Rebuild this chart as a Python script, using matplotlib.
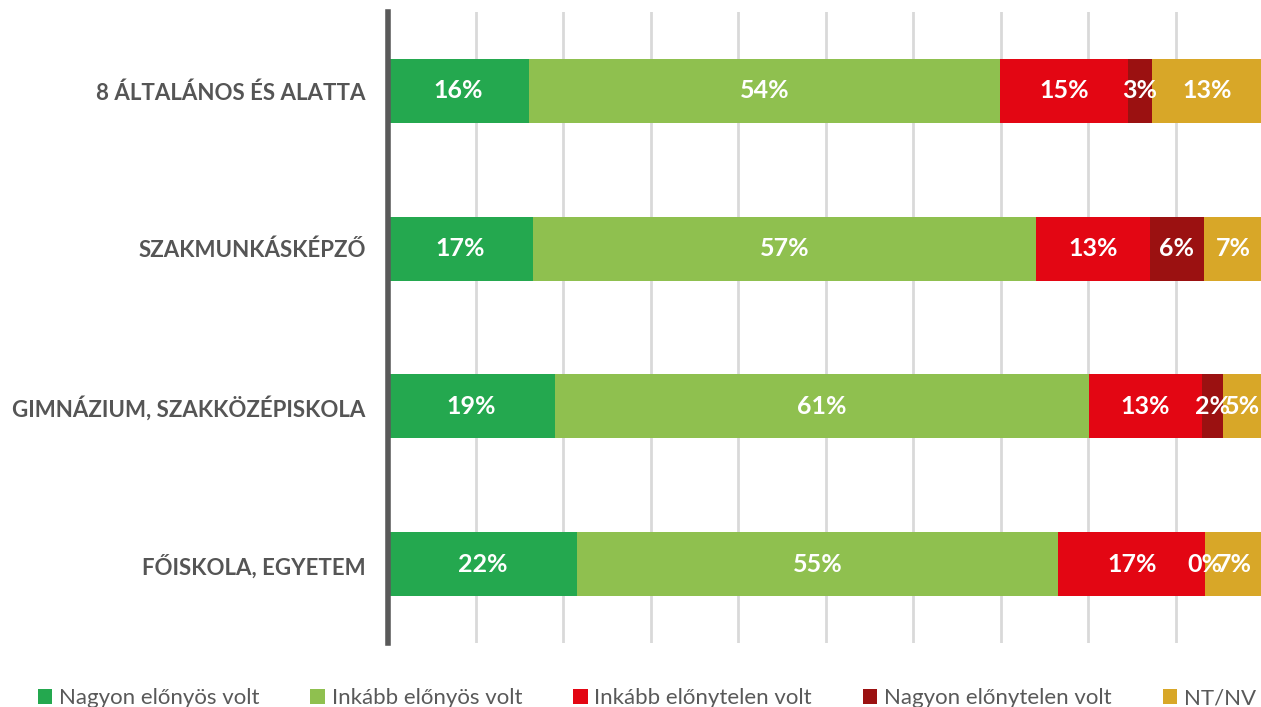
import matplotlib
matplotlib.use("Agg")
import matplotlib.pyplot as plt
from matplotlib.patches import Patch
import numpy as np

plt.rcParams['font.family'] = ['Lato', 'DejaVu Sans']

categories = ["8 ÁLTALÁNOS ÉS ALATTA", "SZAKMUNKÁSKÉPZŐ",
              "GIMNÁZIUM, SZAKKÖZÉPISKOLA", "FŐISKOLA, EGYETEM"]
series_names = ["Nagyon előnyös volt", "Inkább előnyös volt",
                "Inkább előnytelen volt", "Nagyon előnytelen volt", "NT/NV"]
nagyon_elonyos = [16.1, 16.6, 19.1, 21.6]
inkabb_elonyos = [53.8, 57.4, 61.0, 55.0]
inkabb_elonytelen = [14.7, 13.1, 12.9, 16.8]
nagyon_elonytelen = [2.7, 6.1, 2.4, 0.0]
nt_nv = [12.7, 6.8, 4.6, 6.6]
colors = ["#24A84F", "#8FC04F", "#E30613", "#9B1111", "#D8A728"]

series = [nagyon_elonyos, inkabb_elonyos, inkabb_elonytelen, nagyon_elonytelen, nt_nv]

fig = plt.figure(figsize=(12.61, 7.07), dpi=100)
W, H = 1261, 707
ax = fig.add_axes([388 / W, 1 - 643 / H, (1263 - 388) / W, (643 - 12) / H])

y = np.arange(len(categories))
left = np.zeros(len(categories))
for vals, col, name in zip(series, colors, series_names):
    vals = np.array(vals)
    ax.barh(y, vals, left=left, height=0.405, color=col, label=name, zorder=2)
    for yi, (l, v) in enumerate(zip(left, vals)):
        ax.text(l + v / 2, yi, f"{int(v + 0.5)}%", ha='center', va='center',
                color='white', fontsize=18, fontweight='bold', zorder=3)
    left = left + vals

ax.set_xlim(0, 100)
ax.set_ylim(3.5, -0.5)
ax.set_xticks(np.arange(10, 101, 10))
ax.xaxis.grid(True, color='#D9D9D9', linewidth=2, zorder=0)
ax.set_axisbelow(True)
ax.tick_params(axis='x', length=0, labelbottom=False)
ax.tick_params(axis='y', length=0, pad=16)
ax.set_yticks(y)
ax.set_yticklabels(categories, fontsize=16, fontweight='bold', color='#555555')
for s in ['top', 'right', 'bottom']:
    ax.spines[s].set_visible(False)
ax.spines['left'].set_color('#595959')
ax.spines['left'].set_linewidth(4)

handles = [Patch(facecolor=c, label=n) for c, n in zip(colors, series_names)]
fig.legend(handles=handles, loc='lower center', bbox_to_anchor=(0.513, -0.03),
           ncol=5, frameon=False, fontsize=16, labelcolor='#595959',
           handlelength=0.65, handleheight=0.65, handletextpad=0.3,
           columnspacing=2.3)

fig.savefig("out.png", dpi=100)
